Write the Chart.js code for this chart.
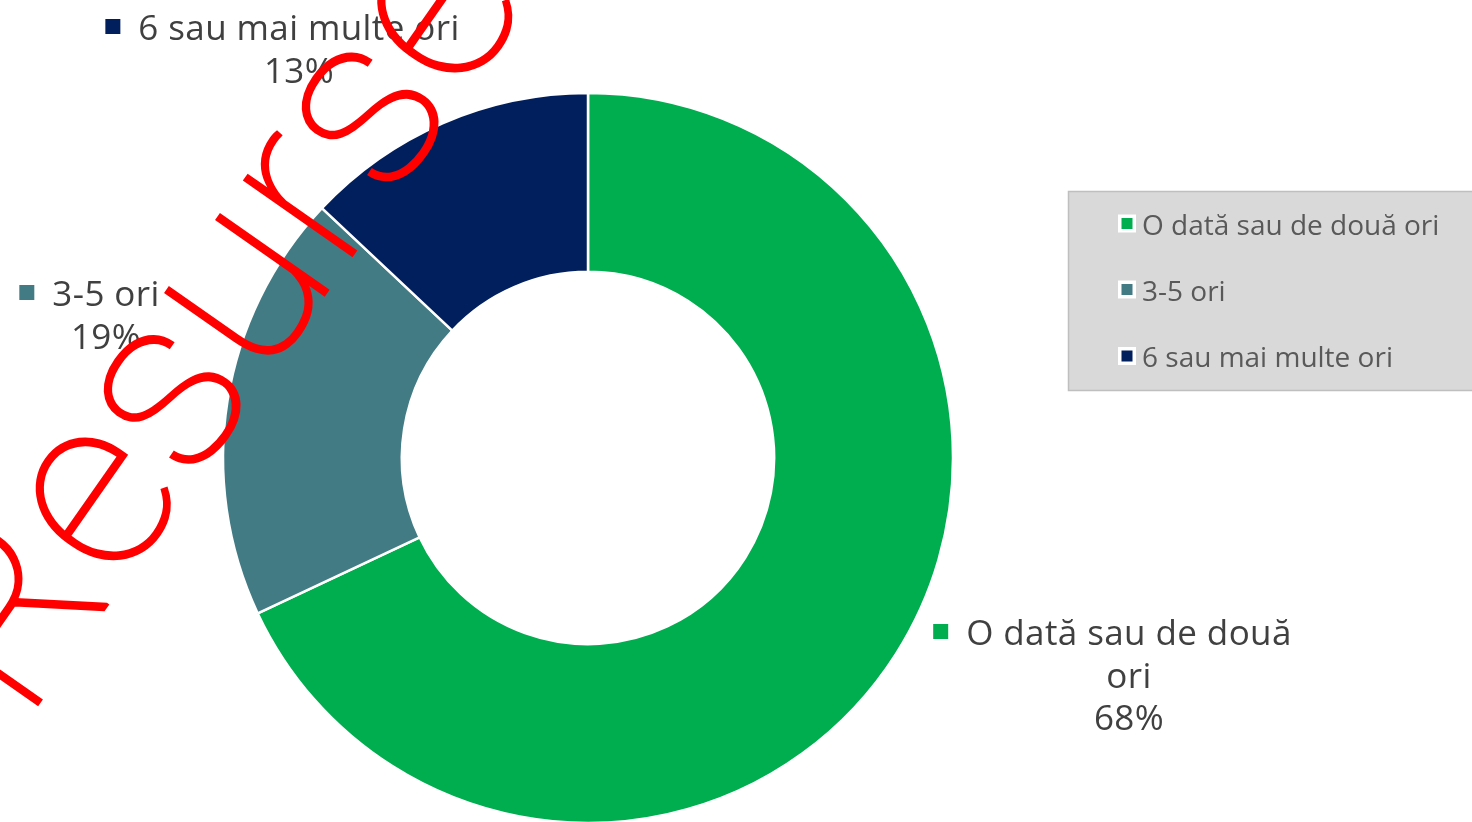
<!DOCTYPE html>
<html><head><meta charset="utf-8">
<script src="https://cdn.jsdelivr.net/npm/chart.js@4"></script>
<style>html,body{margin:0;padding:0;background:#fff;overflow:hidden}
#wrap{position:relative;width:1472px;height:822px}</style></head>
<body><div id="wrap"><canvas id="c" width="1472" height="822"></canvas></div>
<script>
const categories = ['O dată sau de două ori', '3-5 ori', '6 sau mai multe ori'];
const values = [68, 19, 13];
const labelLines = [['O dată sau de două', 'ori'], ['3-5 ori'], ['6 sau mai multe ori']];
const watermarkText = 'Resurse';

const segColors = ['#00AE4F', '#437B85', '#021F5D'];
const FONT = '"Open Sans", Lato, sans-serif';
// label block: centre x of text lines, baseline y of first line
const labelPos = [{x: 1129, y: 645}, {x: 106, y: 306}, {x: 299, y: 40}];

const overlay = {
  id: 'overlay',
  afterDraw(chart) {
    const ctx = chart.ctx;
    const total = values.reduce((a, b) => a + b, 0);
    // data labels
    ctx.save();
    ctx.font = '35px ' + FONT;
    try { ctx.letterSpacing = '0.4px'; } catch (e) {}
    ctx.textBaseline = 'alphabetic';
    ctx.textAlign = 'center';
    categories.forEach((cat, i) => {
      const p = labelPos[i];
      const lines = labelLines[i].concat([Math.round(values[i] / total * 100) + '%']);
      lines.forEach((ln, j) => {
        ctx.fillStyle = '#404040';
        ctx.fillText(ln, p.x, p.y + j * 42.5);
        if (j === 0) {
          const w = ctx.measureText(ln).width;
          ctx.fillStyle = segColors[i];
          ctx.fillRect(p.x - w / 2 - 18 - 15, p.y - 13.5 - 7.5, 15, 15);
        }
      });
    });
    ctx.restore();

    // legend box
    ctx.save();
    ctx.fillStyle = '#D9D9D9';
    ctx.strokeStyle = '#BFBFBF';
    ctx.lineWidth = 1.5;
    ctx.fillRect(1068.5, 191.5, 420, 199);
    ctx.strokeRect(1068.5, 191.5, 420, 199);
    ctx.font = '28px ' + FONT;
    ctx.textBaseline = 'alphabetic';
    ctx.textAlign = 'left';
    const rows = [234.5, 300.5, 367];
    categories.forEach((cat, i) => {
      const y = rows[i];
      ctx.fillStyle = '#FFFFFF';
      ctx.fillRect(1118, y - 11 - 9, 18, 18);
      ctx.fillStyle = segColors[i];
      ctx.fillRect(1121.5, y - 11 - 5.5, 11, 11);
      ctx.fillStyle = '#595959';
      ctx.fillText(cat, 1142, y);
    });
    ctx.restore();

    // watermark
    ctx.save();
    ctx.translate(278, 362);
    ctx.rotate(-55 * Math.PI / 180);
    ctx.font = '100 250px Roboto, "Liberation Serif", serif';
    ctx.textAlign = 'center';
    ctx.textBaseline = 'alphabetic';
    ctx.fillStyle = '#FF0000';
    ctx.strokeStyle = '#FF0000';
    ctx.lineWidth = 1.8;
    ctx.fillText(watermarkText, 0, 0);
    ctx.strokeText(watermarkText, 0, 0);
    ctx.restore();
  }
};

new Chart(document.getElementById('c'), {
  type: 'doughnut',
  data: {
    labels: categories,
    datasets: [{
      data: values,
      backgroundColor: segColors,
      borderColor: '#FFFFFF',
      borderWidth: 2.5
    }]
  },
  options: {
    responsive: false,
    devicePixelRatio: 1,
    animation: false,
    radius: 365,
    cutout: 185,
    layout: {padding: {left: 0, right: 296, top: 94, bottom: 0}},
    plugins: {legend: {display: false}, tooltip: {enabled: false}}
  },
  plugins: [overlay]
});
</script></body></html>
